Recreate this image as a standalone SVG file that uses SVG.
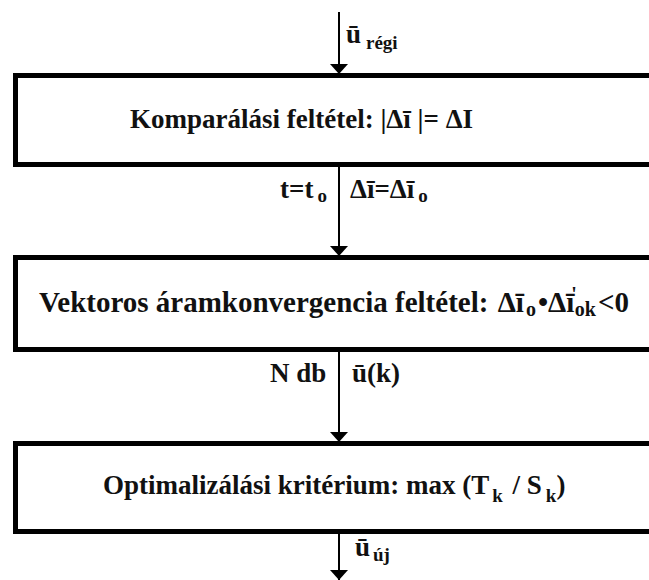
<svg xmlns="http://www.w3.org/2000/svg" width="649" height="580" viewBox="0 0 649 580" font-family="Liberation Serif, serif" font-weight="bold">
<style>
text{fill:#111}
.m{font-size:27px}
.s{font-size:19px}
.b{font-size:29px}
.bs{font-size:20px}
.box{fill:#fff;stroke:#000;stroke-width:5}
.ln{stroke:#000;stroke-width:2;fill:none}
</style>
<defs>
<marker id="ah" viewBox="0 0 10 18" refX="10" refY="9" markerWidth="10" markerHeight="18" markerUnits="userSpaceOnUse" orient="auto">
<path d="M0,0 L10,9 L0,18 Z" fill="#000"/>
</marker>
</defs>
<g id="connectors">
<line class="ln" x1="339" y1="12" x2="339" y2="74" marker-end="url(#ah)"/>
<line class="ln" x1="339" y1="167" x2="339" y2="256" marker-end="url(#ah)"/>
<line class="ln" x1="339" y1="352" x2="339" y2="442" marker-end="url(#ah)"/>
<line class="ln" x1="339" y1="534" x2="339" y2="580" marker-end="url(#ah)"/>
</g>
<g id="label-u-regi">
<text x="346" y="43" class="m">ū</text>
<text x="366" y="49" class="s">régi</text>
</g>
<g id="node-komparalasi">
<rect class="box" x="15.5" y="75.5" width="660" height="89"/>
<text x="130" y="128" class="m">Komparálási feltétel:  |Δī |= ΔI</text>
</g>
<g id="label-t">
<text x="280" y="198" class="m">t=t<tspan class="s" dx="4" dy="4">o</tspan></text>
<text x="350" y="198" class="m">Δī=Δī<tspan class="s" dx="4" dy="4">o</tspan></text>
</g>
<g id="node-vektoros">
<rect class="box" x="15.5" y="257.5" width="660" height="92"/>
<text x="39" y="312" class="b">Vektoros áramkonvergencia feltétel: <tspan dx="2">Δī</tspan><tspan class="bs" dx="2" dy="4">o</tspan><tspan dx="2" dy="-4">•Δī</tspan><tspan class="bs" dx="-3" dy="-11">'</tspan><tspan class="bs" dx="-2" dy="15">ok</tspan><tspan dx="2" dy="-4">&lt;0</tspan></text>
</g>
<g id="label-ndb">
<text x="270" y="382" class="m">N db</text>
<text x="352" y="382" class="m">ū(k)</text>
</g>
<g id="node-optimalizalasi">
<rect class="box" x="15.5" y="443.5" width="660" height="88"/>
<text x="103" y="494" class="m">Optimalizálási kritérium: max (T<tspan class="s" dx="3" dy="8">k</tspan><tspan dx="3" dy="-8"> / S</tspan><tspan class="s" dx="4" dy="8">k</tspan><tspan dy="-8">)</tspan></text>
</g>
<g id="label-u-uj">
<text x="355" y="556" class="m">ū</text>
<text x="373" y="561" class="s">új</text>
</g>
</svg>
